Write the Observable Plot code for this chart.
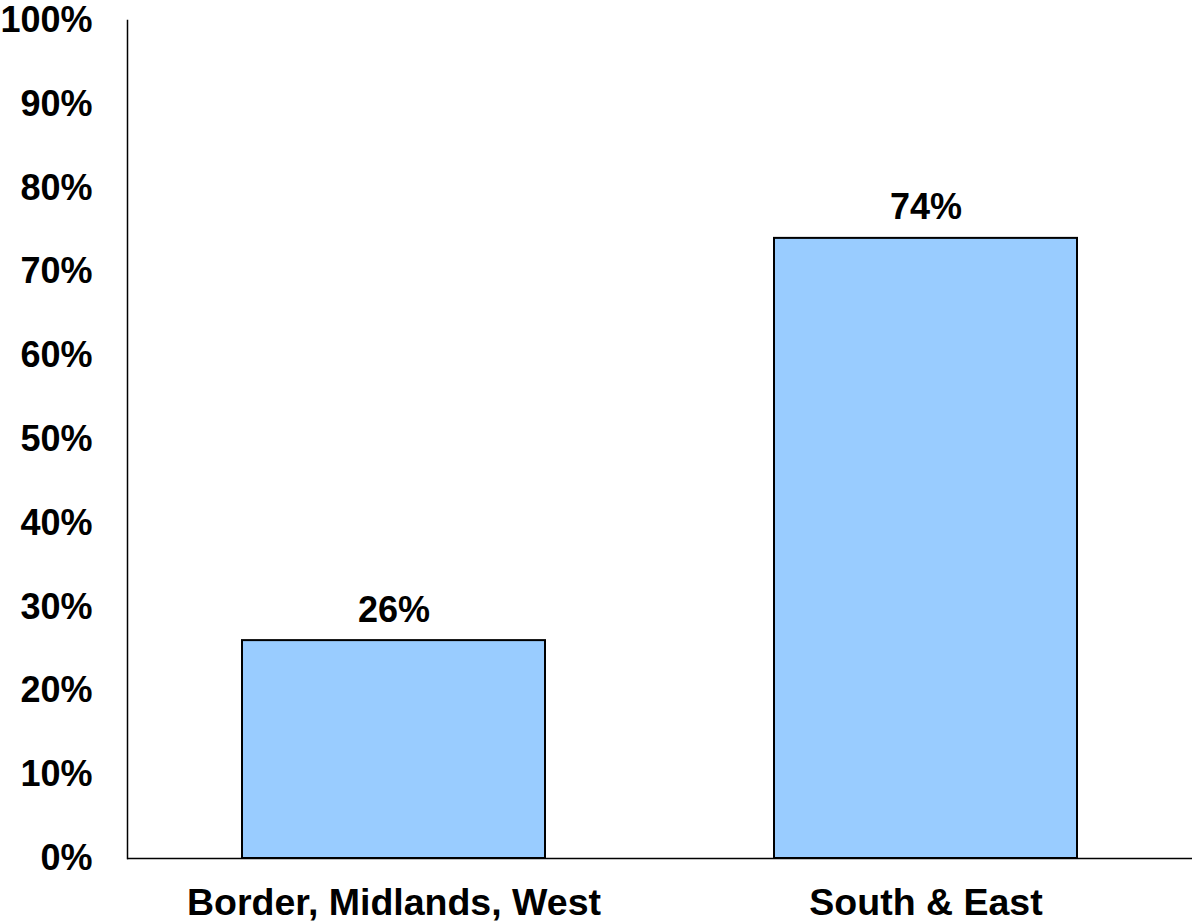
<!DOCTYPE html>
<html>
<head>
<meta charset="utf-8">
<script src="https://cdn.jsdelivr.net/npm/d3@7"></script>
<script src="https://cdn.jsdelivr.net/npm/@observablehq/plot@0.6"></script>
<style>
  html, body { margin: 0; padding: 0; background: #fff; }
</style>
</head>
<body>
<div id="chart"></div>
<script>
const regions = ["Border, Midlands, West", "South & East"];
const shares = [26, 74];
const yTicks = [0, 10, 20, 30, 40, 50, 60, 70, 80, 90, 100];

const data = regions.map((r, i) => ({region: r, value: shares[i]}));

const font = "'Liberation Sans', Arial, Helvetica, sans-serif";

const chart = Plot.plot({
  width: 1192,
  height: 922,
  marginLeft: 127,
  marginRight: 0,
  marginTop: 20,
  marginBottom: 64,
  style: {fontFamily: font, background: "#fff", color: "#000"},
  x: {domain: regions, paddingInner: 0.43, paddingOuter: 0.215, label: null},
  y: {domain: [0, 100], label: null},
  marks: [
    Plot.frame({anchor: "left", stroke: "#000", strokeWidth: 1.5}),
    Plot.barY(data, {x: "region", y: "value", fill: "#99ccff", stroke: "#000", strokeWidth: 2}),
    Plot.ruleY([0], {stroke: "#000", strokeWidth: 1.5}),
    Plot.text(data, {x: "region", y: "value", text: d => d.value + "%", lineAnchor: "bottom", dy: -19, fontSize: 36, fontWeight: "bold", fill: "#000"}),
    Plot.axisY({ticks: yTicks, tickSize: 0, tickPadding: 35, tickFormat: d => d + "%", fontSize: 36, fontWeight: "bold", label: null}),
    Plot.axisX({tickSize: 0, tickPadding: 30, fontSize: 37.5, fontWeight: "bold", label: null})
  ]
});
document.getElementById("chart").appendChild(chart);
</script>
</body>
</html>
